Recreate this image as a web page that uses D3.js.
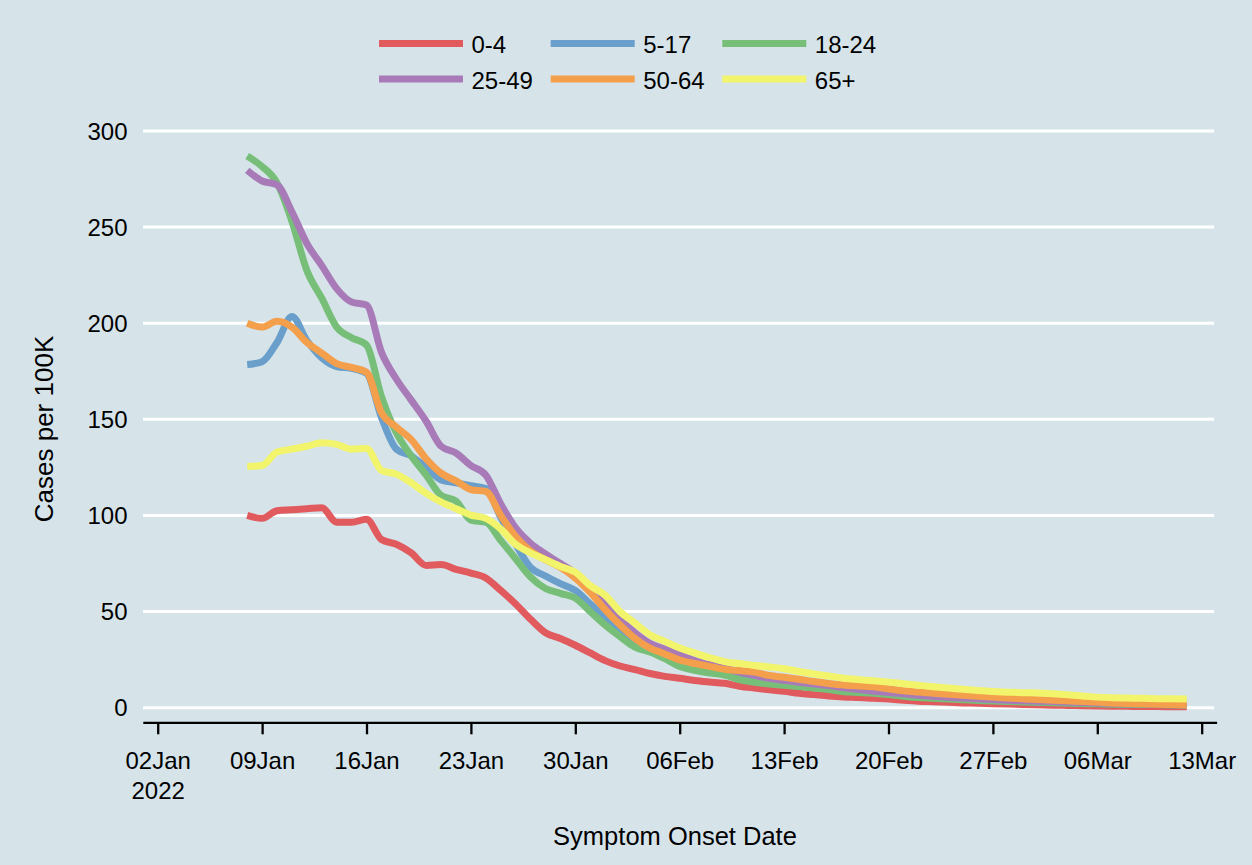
<!DOCTYPE html>
<html>
<head>
<meta charset="utf-8">
<script src="https://cdn.jsdelivr.net/npm/d3@7"></script>
<style>
  html, body { margin: 0; padding: 0; background: #d6e4ea; }
  svg { display: block; }
  text { font-family: "Liberation Sans", Arial, Helvetica, sans-serif; fill: #000; }
</style>
</head>
<body>
<svg id="chart" width="1252" height="865"></svg>
<script>
// ---------- DATA ----------
const startDate = "2022-01-08"; // first daily value, one value per day to 2022-03-12
const seriesNames = ["0-4", "5-17", "18-24", "25-49", "50-64", "65+"];
const seriesColors = ["#e05a5e", "#6a9fcb", "#77bf78", "#a87bb8", "#f39f4b", "#f2f56b"];

const age0_4 = [100, 98.5, 102.5, 103, 103.5, 104, 96.5, 96.5, 98, 87.5,
  85, 80.5, 74, 74.5, 72, 70, 67.5, 61, 54, 46,
  39, 36, 32.5, 28.5, 24.5, 21.7, 19.8, 17.8, 16.3, 15.3,
  14.2, 13.4, 12.7, 11.2, 10.2, 9.3, 8.5, 7.5, 6.8, 6.1,
  5.6, 5.3, 4.9, 4.5, 3.9, 3.4, 3.1, 2.8, 2.5, 2.3,
  2.1, 1.9, 1.7, 1.5, 1.3, 1.2, 1.0, 0.9, 0.8, 0.7,
  0.6, 0.6, 0.5, 0.5];
const age5_17 = [178.5, 180, 190, 203.5, 191, 182, 177.5, 176.5, 174, 151,
  134.5, 131, 125, 118.5, 117, 115.5, 114, 99, 85, 73,
  68.5, 64.5, 61, 54, 47, 40, 34, 30, 27.5, 24.5,
  22, 20, 18, 16.5, 15, 14, 13, 12.2, 11.4, 10.6,
  9.6, 8.9, 8.2, 7.5, 6.7, 6.0, 5.5, 5.0, 4.6, 4.2,
  3.9, 3.6, 3.3, 3.0, 2.8, 2.6, 2.4, 2.2, 2.0, 1.9,
  1.8, 1.6, 1.5, 1.4];
const age18_24 = [287, 281.5, 273, 253, 227.5, 213, 198, 192.5, 188.7, 162,
  143, 131, 121, 110.5, 107.5, 97.6, 96.5, 87, 77.5, 68,
  62, 59.5, 57, 50, 43, 37, 31.5, 29, 25.5, 21.5,
  19.5, 18, 17, 14.6, 13.2, 12.3, 11.7, 11, 10.2, 9.4,
  8.3, 7.9, 7.5, 6.8, 6.0, 5.3, 4.9, 4.5, 4.1, 3.8,
  3.5, 3.2, 3.0, 2.8, 2.6, 2.4, 2.2, 2.0, 1.9, 1.8,
  1.7, 1.6, 1.5, 1.4];
const age25_49 = [279.5, 274, 272, 258, 241.5, 230, 218, 211, 209.5, 185,
  171, 160, 149, 136, 132.5, 126, 121, 106, 93.5, 85.5,
  80, 75, 70, 62.5, 55, 46, 39, 33.5, 30.5, 27.5,
  24.5, 22.5, 20.5, 18.5, 16.8, 15.3, 14.2, 13.2, 12.3, 11.5,
  10.3, 9.4, 8.6, 7.9, 7.2, 6.5, 5.9, 5.4, 5.0, 4.6,
  4.2, 3.9, 3.6, 3.4, 3.2, 2.9, 2.7, 2.5, 2.3, 2.1,
  2.0, 1.9, 1.8, 1.7];
const age50_64 = [200, 198, 201, 198, 190, 184.5, 179, 177, 174.5, 153.5,
  146, 139.5, 129.5, 122, 118, 113.5, 112.5, 100, 89, 81.5,
  77, 73, 67.5, 60, 51, 43, 36, 31, 28, 24.8,
  23, 21.5, 20, 19.3, 18.5, 16.8, 15.8, 14.8, 13.6, 12.6,
  11.8, 11.3, 10.9, 9.8, 8.8, 8.1, 7.5, 7.0, 6.5, 6.0,
  5.5, 5.0, 4.6, 4.2, 3.9, 3.6, 3.2, 2.9, 2.4, 2.2,
  2.0, 1.8, 1.6, 1.4];
const age65plus = [125.5, 126, 133, 134.5, 136, 137.8, 137, 134.5, 134.8, 123.5,
  121.5, 117, 111.5, 107, 103.5, 100.2, 98.5, 93, 85, 80.5,
  77, 73.5, 70.5, 63.5, 58.5, 50, 44, 38, 34.5, 31,
  28.5, 26, 24, 23, 22, 21.2, 20.3, 18.8, 17.6, 16.5,
  15.3, 14.6, 14, 13.3, 12.5, 11.7, 10.9, 10.2, 9.6, 9.0,
  8.4, 8.1, 7.8, 7.6, 7.2, 6.7, 6.1, 5.5, 5.2, 5.0,
  4.9, 4.7, 4.6, 4.5];

const seriesValues = [age0_4, age5_17, age18_24, age25_49, age50_64, age65plus];
const xTickDates = ["2022-01-02", "2022-01-09", "2022-01-16", "2022-01-23", "2022-01-30",
  "2022-02-06", "2022-02-13", "2022-02-20", "2022-02-27", "2022-03-06", "2022-03-13"];
const yTicks = [0, 50, 100, 150, 200, 250, 300];

// ---------- CHART ----------
const svg = d3.select("#chart");
const W = 1252, H = 865;
svg.append("rect").attr("width", W).attr("height", H).attr("fill", "#d6e4ea");

const parse = d3.utcParse("%Y-%m-%d");
const t0 = parse(startDate);

const x = d3.scaleUtc()
  .domain([parse("2022-01-01"), parse("2022-03-14")])
  .range([142.8, 1216.6]);
const y = d3.scaleLinear().domain([0, 300]).range([707.7, 131]);

// gridlines
svg.append("g").selectAll("line").data(yTicks).join("line")
  .attr("x1", 143).attr("x2", 1214)
  .attr("y1", d => y(d)).attr("y2", d => y(d))
  .attr("stroke", "#ffffff").attr("stroke-width", 3);

// y tick labels
svg.append("g").selectAll("text").data(yTicks).join("text")
  .attr("x", 127.5).attr("y", d => y(d))
  .attr("dy", "0.36em")
  .attr("text-anchor", "end")
  .style("font-size", "24px")
  .text(d => d);

// x axis
const fmt = d3.utcFormat("%d%b");
const xAxis = d3.axisBottom(x)
  .tickValues(xTickDates.map(parse))
  .tickSize(12)
  .tickSizeOuter(0)
  .tickPadding(10)
  .tickFormat(d => fmt(d));
const gx = svg.append("g").attr("transform", "translate(0,722.3)").call(xAxis);
gx.select(".domain").attr("stroke", "#000").attr("stroke-width", 2.3);
gx.selectAll(".tick line").attr("stroke", "#000").attr("stroke-width", 2.3);
gx.selectAll(".tick text")
  .attr("fill", "#000")
  .style("font-size", "24px")
  .style("font-family", "'Liberation Sans', Arial, sans-serif")
  .attr("y", 0).attr("dy", 0)
  .attr("transform", "translate(0,46.5)");
gx.selectAll(".tick").filter((d, i) => i === 0).select("text")
  .append("tspan").attr("x", 0).attr("dy", 30.5).text("2022");

// axis titles
svg.append("text")
  .attr("transform", "translate(53,429) rotate(-90)")
  .attr("text-anchor", "middle")
  .style("font-size", "26px")
  .text("Cases per 100K");
svg.append("text")
  .attr("x", 675).attr("y", 845)
  .attr("text-anchor", "middle")
  .style("font-size", "25.5px")
  .text("Symptom Onset Date");

// lines
const line = d3.line()
  .x((d, i) => x(d3.utcDay.offset(t0, i)))
  .y(d => y(d))
  .curve(d3.curveMonotoneX);

svg.append("g").selectAll("path").data(seriesValues).join("path")
  .attr("d", d => line(d))
  .attr("fill", "none")
  .attr("stroke", (d, i) => seriesColors[i])
  .attr("stroke-width", 7)
  .attr("stroke-linejoin", "round")
  .attr("stroke-linecap", "butt");

// legend
const legX = [379, 550.7, 722.3];
const legY = [43.5, 79];
const leg = svg.append("g");
seriesNames.forEach((name, i) => {
  const col = i % 3, row = Math.floor(i / 3);
  leg.append("line")
    .attr("x1", legX[col]).attr("x2", legX[col] + 84)
    .attr("y1", legY[row]).attr("y2", legY[row])
    .attr("stroke", seriesColors[i]).attr("stroke-width", 7);
  leg.append("text")
    .attr("x", legX[col] + 92.5).attr("y", legY[row] + 9.5)
    .style("font-size", "24px")
    .text(name);
});
</script>
</body>
</html>
